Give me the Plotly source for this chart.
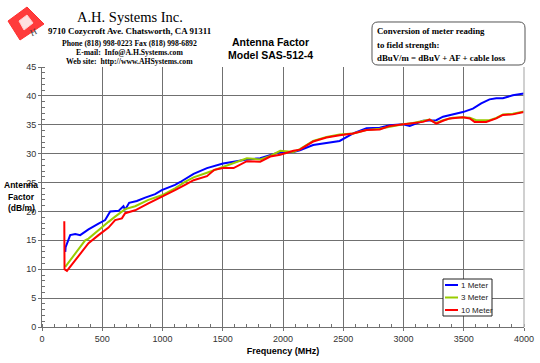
import plotly.graph_objects as go

# ---- data ----
freq_1m = [193, 196, 234, 276, 317, 386, 469, 524, 566, 635, 676, 690, 723, 787, 856, 939, 994,
           1104, 1148, 1258, 1369, 1502, 1590, 1700, 1811, 1894, 1977, 2087, 2140, 2250, 2361,
           2470, 2582, 2693, 2803, 2886, 2996, 3052, 3162, 3272, 3328, 3410, 3493, 3576, 3645,
           3714, 3770, 3825, 3907, 4000]
af_1m = [13.0, 13.8, 15.9, 16.1, 15.9, 16.9, 17.9, 18.5, 20.0, 20.1, 20.9, 20.3, 21.5, 21.8, 22.4,
         23.0, 23.7, 24.6, 25.1, 26.5, 27.5, 28.3, 28.6, 29.0, 29.2, 29.8, 30.3, 30.3, 30.6, 31.5,
         31.9, 32.2, 33.5, 34.4, 34.5, 34.9, 35.1, 34.8, 35.7, 35.8, 36.4, 36.8, 37.2, 37.8, 38.7,
         39.4, 39.6, 39.6, 40.1, 40.4]

freq_3m = [193, 276, 358, 386, 469, 552, 607, 690, 773, 883, 994, 1104, 1187, 1258, 1369, 1502,
           1590, 1700, 1811, 1894, 1977, 2087, 2140, 2250, 2361, 2470, 2582, 2693, 2803, 2914,
           2996, 3079, 3162, 3217, 3272, 3328, 3410, 3493, 3550, 3604, 3714, 3770, 3825, 3907, 4000]
af_3m = [10.4, 12.7, 15.0, 15.3, 16.8, 18.2, 19.1, 20.4, 20.9, 22.0, 22.8, 24.0, 25.1, 25.9, 26.7,
         27.7, 28.4, 29.2, 29.0, 29.6, 30.5, 30.3, 30.8, 32.2, 32.9, 33.3, 33.5, 34.1, 34.3, 34.8,
         35.1, 35.3, 35.6, 35.9, 35.3, 35.8, 36.2, 36.3, 36.2, 35.8, 35.8, 36.2, 36.8, 36.9, 37.3]

freq_10m = [185, 187, 207, 276, 358, 386, 469, 552, 607, 663, 690, 773, 883, 994, 1104, 1187, 1258,
            1369, 1430, 1502, 1590, 1700, 1811, 1894, 1977, 2087, 2140, 2250, 2361, 2470, 2582,
            2693, 2803, 2886, 2996, 3079, 3162, 3217, 3272, 3328, 3383, 3493, 3550, 3590, 3686,
            3770, 3825, 3907, 4000]
af_10m = [18.3, 10.0, 9.7, 11.6, 13.9, 14.5, 15.9, 17.2, 18.5, 18.8, 19.7, 20.2, 21.4, 22.5, 23.7,
          24.6, 25.4, 26.1, 27.2, 27.5, 27.5, 28.7, 28.6, 29.5, 29.8, 30.5, 30.7, 32.1, 32.8, 33.2,
          33.5, 34.1, 34.2, 34.8, 35.1, 35.3, 35.5, 35.9, 35.2, 35.7, 36.1, 36.3, 36.1, 35.5, 35.5,
          36.1, 36.7, 36.8, 37.2]

series_names = ["1 Meter", "3 Meter", "10 Meter"]
series_colors = ["#0000FF", "#99CC00", "#FF0000"]

header_lines = ["A.H. Systems Inc.", "9710 Cozycroft Ave. Chatsworth, CA 91311",
                "Phone (818) 998-0223 Fax (818) 998-6892", "E-mail:  Info@A.H.Systems.com",
                "Web site:  http://www.AHSystems.com"]
title_lines = ["Antenna Factor", "Model SAS-512-4"]
box_lines = ["Conversion of meter reading", "to field strength:", "dBuV/m = dBuV + AF + cable loss"]
ytitle_lines = ["Antenna", "Factor", "(dB/m)"]

# ---- layout geometry ----
W, H = 540, 363
L, R, T, B = 42, 16, 67, 36
PW, PH = W - L - R, H - T - B


def px(x):
    return (x - L) / PW


def py(y):
    return (H - B - y) / PH


fig = go.Figure()
for f, v, n, c in zip([freq_1m, freq_3m, freq_10m], [af_1m, af_3m, af_10m], series_names, series_colors):
    fig.add_trace(go.Scatter(x=f, y=v, mode="lines", name=n, showlegend=False,
                             line=dict(color=c, width=2)))

serif = "Liberation Serif"
sans = "Liberation Sans"
ann = []
# header
hdr = [(130, 17, 14.5, False), (129, 31, 8.9, True), (129, 43, 7.7, True), (129, 52, 7.7, True), (129, 61, 7.7, True)]
for txt, (x, y, s, b) in zip(header_lines, hdr):
    ann.append(dict(text=("<b>%s</b>" % txt) if b else txt, x=px(x), y=py(y), xref="paper", yref="paper",
                    showarrow=False, xanchor="center", yanchor="middle",
                    font=dict(family=serif, size=s, color="black")))
for txt, y in zip(title_lines, [42, 55]):
    ann.append(dict(text="<b>%s</b>" % txt, x=px(270), y=py(y), xref="paper", yref="paper",
                    showarrow=False, xanchor="center", yanchor="middle",
                    font=dict(family=sans, size=10.5, color="black")))
for txt, y in zip(box_lines, [31, 45, 58]):
    ann.append(dict(text="<b>%s</b>" % txt, x=px(375), y=py(y), xref="paper", yref="paper",
                    showarrow=False, xanchor="left", yanchor="middle",
                    font=dict(family=serif, size=8.8, color="black")))
for txt, y in zip(ytitle_lines, [185, 197, 208]):
    ann.append(dict(text="<b>%s</b>" % txt, x=px(21), y=py(y), xref="paper", yref="paper",
                    showarrow=False, xanchor="center", yanchor="middle",
                    font=dict(family=sans, size=8.5, color="black")))
ann.append(dict(text="H", x=px(26), y=py(23), xref="paper", yref="paper", showarrow=False,
                font=dict(family=serif, size=9, color="#404040"), textangle=-25))

# manual legend entries
leg_y = [285, 297.5, 310]
for n, c, y in zip(series_names, series_colors, leg_y):
    ann.append(dict(text=n, x=px(459), y=py(y), xref="paper", yref="paper", showarrow=False,
                    xanchor="left", yanchor="middle", font=dict(family=sans, size=8, color="#222222")))


def path_from(points):
    return "M " + " L ".join("%f,%f" % (px(a), py(b)) for a, b in points) + " Z"


x0, x1, y0, y1, r = 372, 525, 22, 65, 6
rb = ("M %f,%f L %f,%f Q %f,%f %f,%f L %f,%f Q %f,%f %f,%f L %f,%f Q %f,%f %f,%f L %f,%f Q %f,%f %f,%f Z" % (
    px(x0 + r), py(y0), px(x1 - r), py(y0), px(x1), py(y0), px(x1), py(y0 + r),
    px(x1), py(y1 - r), px(x1), py(y1), px(x1 - r), py(y1),
    px(x0 + r), py(y1), px(x0), py(y1), px(x0), py(y1 - r),
    px(x0), py(y0 + r), px(x0), py(y0), px(x0 + r), py(y0)))
shapes = [
    dict(type="path", path=rb, xref="paper", yref="paper", line=dict(color="#555555", width=1),
         fillcolor="white"),
    dict(type="path", path=path_from([(8, 21), (27, 7), (44, 24), (20, 40)]), xref="paper", yref="paper",
         line=dict(color="#ff3030", width=1), fillcolor="#ff3b3b"),
    dict(type="path", path=path_from([(19, 21), (27, 15), (33, 23), (24, 30)]), xref="paper", yref="paper",
         line=dict(color="#ffd0d0", width=1), fillcolor="#ffe0e0"),
    dict(type="line", x0=1, x1=1, y0=0, y1=1, xref="paper", yref="paper",
         line=dict(color="#c0c0c0", width=1.5)),
    dict(type="rect", x0=px(443), x1=px(492), y0=py(279), y1=py(316), xref="paper", yref="paper",
         line=dict(color="#222222", width=1), fillcolor="white"),
]
for c, y in zip(series_colors, leg_y):
    shapes.append(dict(type="line", x0=px(445), x1=px(458), y0=py(y), y1=py(y), xref="paper", yref="paper",
                       line=dict(color=c, width=2)))

fig.update_layout(
    width=W, height=H, margin=dict(l=L, r=R, t=T, b=B, autoexpand=False),
    paper_bgcolor="white", plot_bgcolor="white",
    annotations=ann, shapes=shapes,
    font=dict(family=sans, size=9, color="#333333"),
    showlegend=False,
    xaxis=dict(range=[0, 4000], dtick=500, tick0=0, showgrid=True, gridcolor="#707070", gridwidth=1,
               showline=True, linecolor="#707070", linewidth=1, ticks="outside", ticklen=3,
               tickcolor="#707070", zeroline=False, automargin=False,
               minor=dict(dtick=100, ticks="inside", ticklen=3, tickcolor="#707070", showgrid=False),
               tickfont=dict(family=sans, size=9, color="#333333"),
               title=dict(text="<b>Frequency (MHz)</b>", font=dict(family=sans, size=9, color="black"),
                          standoff=4)),
    yaxis=dict(range=[0, 45], dtick=5, tick0=0, showgrid=True, gridcolor="#707070", gridwidth=1,
               showline=True, linecolor="#707070", linewidth=1, ticks="outside", ticklen=3,
               tickcolor="#707070", zeroline=False, automargin=False,
               minor=dict(dtick=1, ticks="inside", ticklen=3, tickcolor="#707070", showgrid=False),
               tickfont=dict(family=sans, size=9, color="#333333")),
)

fig.write_html("out.html", config={"displayModeBar": False},
               post_script="document.body.style.margin='0px';document.body.style.overflow='hidden';")
